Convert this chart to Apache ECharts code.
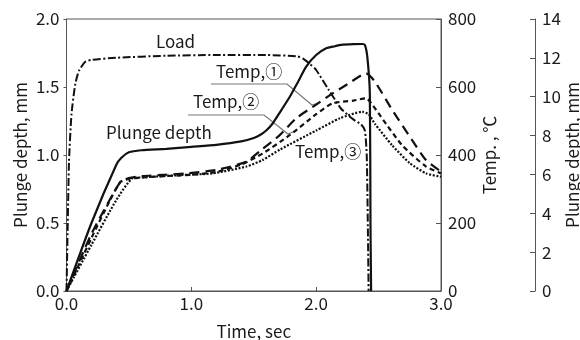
<!DOCTYPE html>
<html><head><meta charset="utf-8">
<script src="https://cdn.jsdelivr.net/npm/echarts@6/dist/echarts.min.js"></script>
<style>html,body{margin:0;padding:0;background:#fff}#c{width:580px;height:340px}</style>
</head><body><div id="c"></div>
<script>
// Time (s) / value pairs per series
var loadT = [0, 0.01, 0.02, 0.04, 0.07, 0.10, 0.15, 0.20, 0.40, 0.80, 1.20, 1.60, 1.85, 1.90, 1.95, 2.00, 2.10, 2.20, 2.30, 2.36, 2.39, 2.405, 2.415, 2.42];
var loadV = [0, 0.50, 0.95, 1.30, 1.52, 1.62, 1.685, 1.70, 1.715, 1.73, 1.735, 1.735, 1.725, 1.705, 1.67, 1.625, 1.48, 1.34, 1.26, 1.225, 1.18, 1.0, 0.4, 0];

var plungeT = [0, 0.20, 0.40, 0.44, 0.50, 0.60, 0.80, 1.00, 1.20, 1.40, 1.50, 1.55, 1.60, 1.65, 1.70, 1.79, 1.85, 1.92, 2.00, 2.08, 2.15, 2.20, 2.30, 2.37, 2.39, 2.41, 2.43, 2.435, 2.44];
var plungeV = [0, 0.50, 0.93, 0.98, 1.02, 1.035, 1.045, 1.06, 1.075, 1.10, 1.125, 1.147, 1.18, 1.23, 1.30, 1.43, 1.53, 1.65, 1.735, 1.785, 1.80, 1.81, 1.815, 1.816, 1.81, 1.72, 1.45, 0.5, 0];

var temp1T = [0, 0.20, 0.43, 0.50, 0.61, 0.80, 0.96, 1.20, 1.44, 1.55, 1.71, 1.84, 2.00, 2.11, 2.25, 2.40, 2.47, 2.61, 2.75, 2.88, 3.00];
var temp1V = [0, 168, 320, 332, 338, 342, 346, 356, 380, 412, 459, 508, 548, 576, 608, 640, 616, 532, 454, 385, 351];

var temp2T = [0, 0.20, 0.35, 0.43, 0.50, 0.70, 1.00, 1.20, 1.40, 1.57, 1.79, 2.00, 2.13, 2.30, 2.40, 2.45, 2.52, 2.69, 2.88, 3.00];
var temp2V = [0, 156, 268, 320, 330, 336, 342, 350, 372, 404, 459, 520, 552, 560, 567, 548, 512, 428, 366, 346];

var temp3T = [0, 0.20, 0.40, 0.53, 0.60, 0.91, 1.17, 1.44, 1.57, 1.71, 2.00, 2.19, 2.37, 2.42, 2.47, 2.61, 2.75, 2.88, 3.00];
var temp3V = [0, 136, 268, 332, 334, 341, 346, 366, 385, 416, 472, 508, 527, 520, 492, 428, 376, 346, 336];

var xTicks = [0, 1, 2, 3];
var depthTicksLeft = [0, 0.5, 1.0, 1.5, 2.0];
var tempTicks = [0, 200, 400, 600, 800];
var depthTicksRight = [0, 2, 4, 6, 8, 10, 12, 14];

function pairs(t, v) { return t.map(function (x, i) { return [x, v[i]]; }); }

var FONT = '"Noto Sans CJK JP", "Noto Sans", sans-serif';
var AX = '#555';
var TXT = '#1a1a1a';
var FS = 17;

var chart = echarts.init(document.getElementById('c'), null, { renderer: 'canvas' });
var option = {
  animation: false,
  backgroundColor: '#fff',
  textStyle: { fontFamily: FONT },
  grid: { left: 66.5, right: 139, top: 19, bottom: 49, show: true, borderColor: AX, borderWidth: 1,
          containLabel: false, outerBoundsMode: 'none' },
  xAxis: {
    type: 'value', min: xTicks[0], max: xTicks[xTicks.length - 1], interval: 1,
    name: 'Time, sec', nameLocation: 'middle', nameGap: 32, nameMoveOverlap: false,
    nameTextStyle: { fontSize: FS, color: TXT, fontFamily: FONT },
    axisLine: { lineStyle: { color: AX, width: 1 } },
    axisTick: { inside: true, length: 4, lineStyle: { color: AX } },
    axisLabel: { fontSize: FS, color: TXT, margin: 4, fontFamily: FONT, formatter: function (v) { return v.toFixed(1); } },
    splitLine: { show: false }
  },
  yAxis: [
    {
      type: 'value', position: 'left', min: 0, max: 2, interval: 0.5,
      name: 'Plunge depth, mm', nameLocation: 'middle', nameGap: 37, nameRotate: 90, nameMoveOverlap: false,
      nameTextStyle: { fontSize: FS, color: TXT, fontFamily: FONT },
      axisLine: { show: true, lineStyle: { color: AX, width: 1 } },
      axisTick: { show: true, inside: false, length: 3, lineStyle: { color: AX } },
      axisLabel: { fontSize: FS, color: TXT, margin: 7, fontFamily: FONT, formatter: function (v) { return v.toFixed(1); } },
      splitLine: { show: false }
    },
    {
      type: 'value', position: 'right', min: 0, max: 800, interval: 200,
      name: 'Temp. , ℃', nameLocation: 'middle', nameGap: 40, nameRotate: 90, nameMoveOverlap: false,
      nameTextStyle: { fontSize: FS, color: TXT, fontFamily: FONT },
      axisLine: { show: true, lineStyle: { color: AX, width: 1 } },
      axisTick: { show: true, inside: true, length: 5, lineStyle: { color: AX } },
      axisLabel: { fontSize: FS, color: TXT, margin: 7, fontFamily: FONT },
      splitLine: { show: false }
    },
    {
      type: 'value', position: 'right', offset: 94, min: 0, max: 14, interval: 2,
      name: 'Plunge depth, mm', nameLocation: 'middle', nameGap: 29, nameRotate: 90, nameMoveOverlap: false,
      nameTextStyle: { fontSize: FS, color: TXT, fontFamily: FONT },
      axisLine: { show: true, lineStyle: { color: AX, width: 1 } },
      axisTick: { show: true, inside: true, length: 5, lineStyle: { color: AX } },
      axisLabel: { fontSize: FS, color: TXT, margin: 7, fontFamily: FONT },
      splitLine: { show: false }
    }
  ],
  series: [
    { name: 'Load', type: 'line', yAxisIndex: 0, data: pairs(loadT, loadV), showSymbol: false, smooth: 0.2,
      lineStyle: { color: '#111', width: 2, type: [8, 2.5, 2, 2.5] } },
    { name: 'Plunge depth', type: 'line', yAxisIndex: 0, data: pairs(plungeT, plungeV), showSymbol: false, smooth: 0.2,
      lineStyle: { color: '#111', width: 2.2, type: 'solid' } },
    { name: 'Temp,①', type: 'line', yAxisIndex: 1, data: pairs(temp1T, temp1V), showSymbol: false, smooth: 0.2,
      lineStyle: { color: '#111', width: 2.2, type: [10, 6] } },
    { name: 'Temp,②', type: 'line', yAxisIndex: 1, data: pairs(temp2T, temp2V), showSymbol: false, smooth: 0.2,
      lineStyle: { color: '#111', width: 2.2, type: [5, 3.5] } },
    { name: 'Temp,③', type: 'line', yAxisIndex: 1, data: pairs(temp3T, temp3V), showSymbol: false, smooth: 0.2,
      lineStyle: { color: '#111', width: 2.2, type: [2, 1.6] } }
  ],
  graphic: [
    { type: 'text', left: 156, top: 33, style: { text: 'Load', font: FS + 'px ' + FONT, fill: TXT } },
    { type: 'text', left: 216, top: 63, style: { text: 'Temp,①', font: FS + 'px ' + FONT, fill: TXT } },
    { type: 'text', left: 193, top: 93, style: { text: 'Temp,②', font: FS + 'px ' + FONT, fill: TXT } },
    { type: 'text', left: 295, top: 143, style: { text: 'Temp,③', font: FS + 'px ' + FONT, fill: TXT } },
    { type: 'text', left: 106, top: 124, style: { text: 'Plunge depth', font: FS + 'px ' + FONT, fill: TXT } },
    { type: 'polyline', shape: { points: [[211, 84], [287, 84], [312, 105], [318, 103]] }, style: { stroke: '#777', lineWidth: 1.2, fill: null } },
    { type: 'polyline', shape: { points: [[188, 115], [264, 115], [288, 134], [293, 132]] }, style: { stroke: '#777', lineWidth: 1.2, fill: null } }
  ]
};
chart.setOption(option);
</script>
</body></html>
